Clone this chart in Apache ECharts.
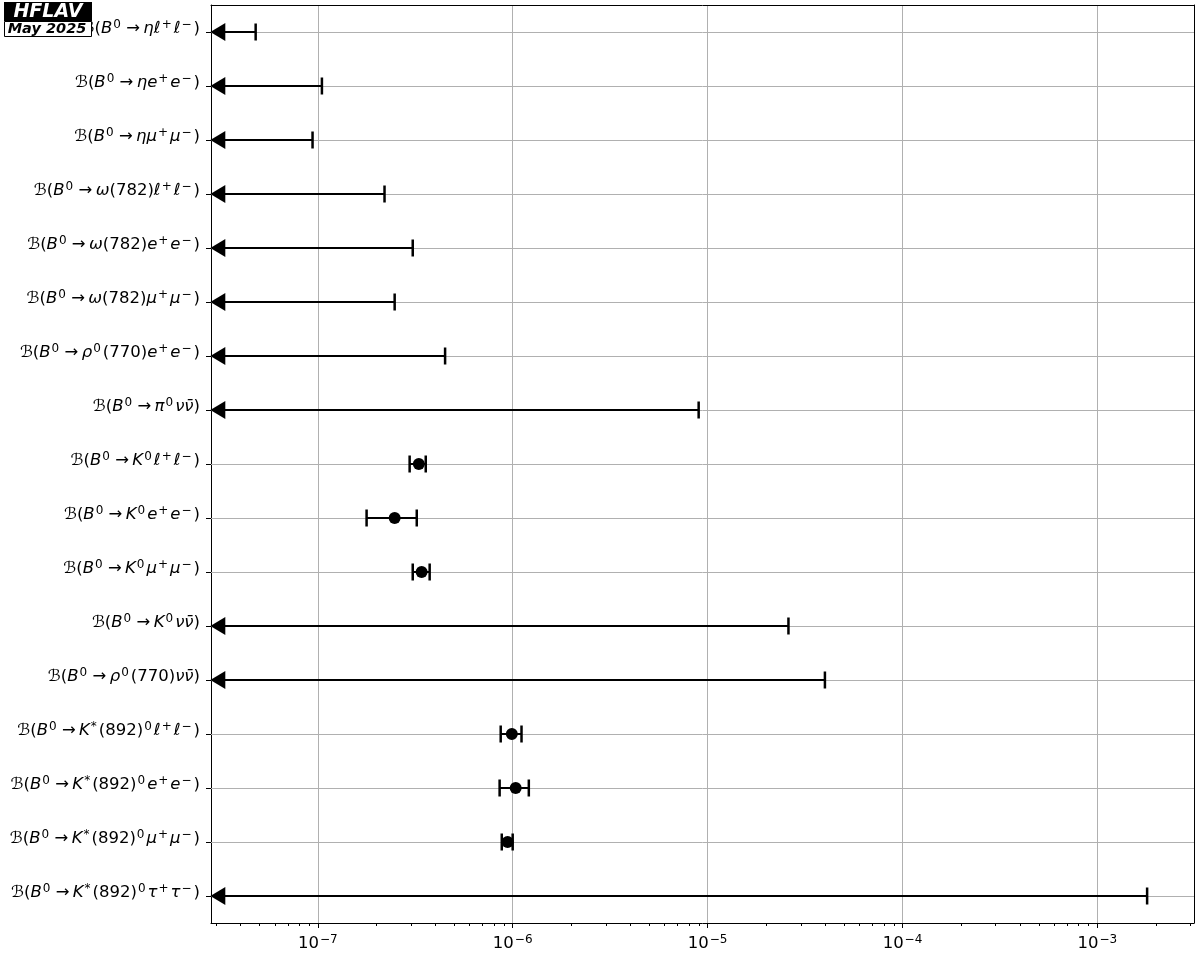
<!DOCTYPE html>
<html><head><meta charset="utf-8">
<script src="https://cdn.jsdelivr.net/npm/echarts@6/dist/echarts.min.js"></script>
<style>html,body{margin:0;padding:0;background:#fff}#c{width:1200px;height:960px}</style>
</head><body><div id="c"></div>
<script>
// ---- data (top row first) ----
const categories = [
  "B^0→ηℓ^+ℓ^−",
  "B^0→ηe^+e^−",
  "B^0→ημ^+μ^−",
  "B^0→ω(782)ℓ^+ℓ^−",
  "B^0→ω(782)e^+e^−",
  "B^0→ω(782)μ^+μ^−",
  "B^0→ρ^0(770)e^+e^−",
  "B^0→π^0νν̄",
  "B^0→K^0ℓ^+ℓ^−",
  "B^0→K^0e^+e^−",
  "B^0→K^0μ^+μ^−",
  "B^0→K^0νν̄",
  "B^0→ρ^0(770)νν̄",
  "B^0→K^*(892)^0ℓ^+ℓ^−",
  "B^0→K^*(892)^0e^+e^−",
  "B^0→K^*(892)^0μ^+μ^−",
  "B^0→K^*(892)^0τ^+τ^−"
];
// upper limits (null = measured value)
const upperLimits = [4.8e-8, 1.05e-7, 9.4e-8, 2.2e-7, 3.07e-7, 2.48e-7, 4.5e-7, 9.0e-6,
  null, null, null, 2.6e-5, 4.0e-5, null, null, null, 1.8e-3];
// measured central values and interval bounds
const centralValues = [null, null, null, null, null, null, null, null,
  3.3e-7, 2.48e-7, 3.41e-7, null, null, 9.9e-7, 1.036e-6, 9.42e-7, null];
const lowerBounds = [null, null, null, null, null, null, null, null,
  2.96e-7, 1.78e-7, 3.07e-7, null, null, 8.68e-7, 8.57e-7, 8.79e-7, null];
const upperBounds = [null, null, null, null, null, null, null, null,
  3.58e-7, 3.22e-7, 3.75e-7, null, null, 1.11e-6, 1.21e-6, 1.0e-6, null];
const xMin = 2.832e-8, xMax = 3.132e-3;
const arrowAnchor = 3.07e-8;
const minorMultipliers = [2, 3, 4, 5, 6, 7, 8, 9];
const minorDecades = [-8, -7, -6, -5, -4, -3];

// ---- helpers ----
const FONT = 'DejaVu Sans';
function richLabel(s) {
  const chars = Array.from(s);
  const toks = [];
  let sup = false;
  for (const ch of chars) {
    if (ch === '^') { sup = true; continue; }
    let st;
    if (/\p{M}/u.test(ch) && toks.length) { toks[toks.length - 1].t += ch; continue; }
    if (sup) { st = 's'; sup = false; }
    else if (/\p{L}/u.test(ch)) st = 'i';
    else st = 'n';
    let txt = ch === '→' ? '\u2009→\u2009' : ch;
    if (st !== 's' && toks.length && toks[toks.length - 1].st === st) toks[toks.length - 1].t += txt;
    else toks.push({ st, t: txt });
  }
  return '{n|ℬ(}' + toks.map(k => '{' + k.st + '|' + k.t + '}').join('') + '{n|)}';
}

const mainData = categories.map((c, i) => {
  if (upperLimits[i] != null) return [upperLimits[i], i, null, null, 1];
  return [centralValues[i], i, lowerBounds[i], upperBounds[i], 0];
});
const gridData = categories.map((c, i) => [xMin, i]);
const minorData = [];
minorDecades.forEach(d => minorMultipliers.forEach(m => {
  const v = m * Math.pow(10, d);
  if (v > xMin && v < xMax) minorData.push([v, 0]);
}));

const chart = echarts.init(document.getElementById('c'), null, { renderer: 'canvas' });
chart.setOption({
  animation: false,
  backgroundColor: '#fff',
  grid: { left: 211, right: 6, top: 5, bottom: 37, show: false, containLabel: false, outerBoundsMode: 'none' },
  xAxis: [{
    type: 'log', logBase: 10, min: xMin, max: xMax, splitNumber: 5,
    axisLine: { show: true, onZero: false, lineStyle: { color: '#000', width: 1 } },
    axisTick: { show: true, length: 5, lineStyle: { color: '#000', width: 1 } },
    splitLine: { show: true, lineStyle: { color: '#b0b0b0', width: 1 } },
    axisLabel: {
      margin: 11, showMinLabel: false, showMaxLabel: false,
      formatter: function (v) {
        const e = Math.log10(v);
        if (Math.abs(e - Math.round(e)) > 1e-6) return '';
        return '{b|10}{s|' + String(Math.round(e)).replace('-', '−') + '}';
      },
      rich: {
        b: { fontFamily: FONT, fontSize: 16.5, color: '#000', lineHeight: 20 },
        s: { fontFamily: FONT, fontSize: 12, color: '#000', lineHeight: 13, verticalAlign: 'top', padding: [0, 0, 0, 1] }
      }
    }
  }, {
    type: 'log', logBase: 10, min: xMin, max: xMax, position: 'top',
    axisLine: { show: true, onZero: false, lineStyle: { color: '#000', width: 1 } },
    axisTick: { show: false }, axisLabel: { show: false }, splitLine: { show: false }
  }],
  yAxis: [{
    type: 'category', data: categories, inverse: true, boundaryGap: true,
    axisLine: { show: true, onZero: false, lineStyle: { color: '#000', width: 1 } },
    axisTick: { show: true, alignWithLabel: true, length: 5, lineStyle: { color: '#000', width: 1 } },
    splitLine: { show: false },
    axisLabel: {
      margin: 11, padding: [0, 0, 7, 0], formatter: v => richLabel(v),
      rich: {
        n: { fontFamily: FONT, fontSize: 16.5, color: '#000', lineHeight: 20 },
        i: { fontFamily: FONT, fontSize: 16.5, color: '#000', fontStyle: 'italic', lineHeight: 20 },
        s: { fontFamily: FONT, fontSize: 12, color: '#000', lineHeight: 13, verticalAlign: 'top', padding: [0, 2, 0, 1] }
      }
    }
  }, {
    type: 'category', data: categories, inverse: true, position: 'right',
    axisLine: { show: true, onZero: false, lineStyle: { color: '#000', width: 1 } },
    axisTick: { show: false }, axisLabel: { show: false }, splitLine: { show: false }
  }],
  series: [{
    type: 'custom', z: 1, data: gridData, encode: { x: 0, y: 1 },
    renderItem: function (params, api) {
      const cs = params.coordSys;
      const y = Math.round(api.coord([api.value(0), api.value(1)])[1]) + 0.5;
      return { type: 'line', shape: { x1: cs.x, y1: y, x2: cs.x + cs.width, y2: y },
        style: { stroke: '#b0b0b0', lineWidth: 1 } };
    }
  }, {
    type: 'custom', z: 1, data: minorData, encode: { x: 0, y: 1 }, clip: false,
    renderItem: function (params, api) {
      const cs = params.coordSys;
      const x = Math.round(api.coord([api.value(0), 0])[0]) + 0.5;
      const b = cs.y + cs.height;
      return { type: 'line', shape: { x1: x, y1: b, x2: x, y2: b + 3 },
        style: { stroke: '#000', lineWidth: 1 } };
    }
  }, {
    type: 'custom', z: 5, data: mainData, encode: { x: 0, y: 1 }, clip: false,
    renderItem: function (params, api) {
      const cat = api.value(1);
      const p = api.coord([api.value(0), cat]);
      const y = p[1];
      const ch = [];
      const ls = { stroke: '#000', lineWidth: 2 };
      const cap = { stroke: '#000', lineWidth: 2.5 };
      if (api.value(4) === 1) {
        const xa = api.coord([arrowAnchor, cat])[0];
        ch.push({ type: 'line', shape: { x1: xa, y1: y, x2: p[0], y2: y }, style: ls });
        ch.push({ type: 'line', shape: { x1: p[0], y1: y - 8.5, x2: p[0], y2: y + 8.5 }, style: cap });
        ch.push({ type: 'polygon', shape: { points: [[xa - 7.5, y], [xa + 7.5, y - 9], [xa + 7.5, y + 9]] },
          style: { fill: '#000' } });
      } else {
        const xl = api.coord([api.value(2), cat])[0];
        const xh = api.coord([api.value(3), cat])[0];
        ch.push({ type: 'line', shape: { x1: xl, y1: y, x2: xh, y2: y }, style: ls });
        ch.push({ type: 'line', shape: { x1: xl, y1: y - 8.5, x2: xl, y2: y + 8.5 }, style: cap });
        ch.push({ type: 'line', shape: { x1: xh, y1: y - 8.5, x2: xh, y2: y + 8.5 }, style: cap });
        ch.push({ type: 'circle', shape: { cx: p[0], cy: y, r: 6 }, style: { fill: '#000' } });
      }
      return { type: 'group', children: ch };
    }
  }],
  graphic: [
    { type: 'rect', x: 4, y: 2, shape: { width: 88, height: 19 }, style: { fill: '#000' }, z: 100 },
    { type: 'text', x: 48, y: 12, style: { text: 'HFLAV', fill: '#fff', align: 'center', verticalAlign: 'middle', font: 'italic bold 19px "DejaVu Sans"' }, z: 101 },
    { type: 'rect', x: 4.5, y: 21.5, shape: { width: 87, height: 15 }, style: { fill: '#fff', stroke: '#000', lineWidth: 1 }, z: 100 },
    { type: 'text', x: 47, y: 29.5, style: { text: 'May 2025', fill: '#000', align: 'center', verticalAlign: 'middle', font: 'italic bold 14.5px "DejaVu Sans"' }, z: 101 }
  ]
});
</script></body></html>
